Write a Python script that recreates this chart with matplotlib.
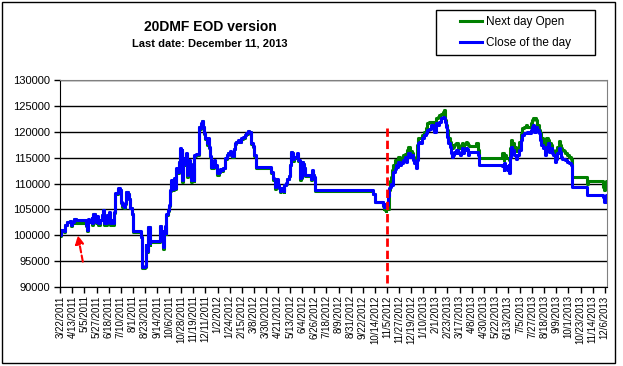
import matplotlib
matplotlib.use("Agg")
import matplotlib.pyplot as plt
from matplotlib.patches import Rectangle
import pandas as pd

plt.rcParams['font.family'] = ['Liberation Sans', 'DejaVu Sans']

# daily series, only the days where something changes (held until next day)
dates = [
    '2011-03-22', '2011-03-24', '2011-03-29', '2011-03-30', '2011-04-04', '2011-04-08', '2011-04-10',
    '2011-04-13', '2011-04-16', '2011-04-19', '2011-05-07', '2011-05-09', '2011-05-11', '2011-05-14',
    '2011-05-18', '2011-05-19', '2011-05-21', '2011-05-24', '2011-05-26', '2011-05-28', '2011-05-30',
    '2011-06-02', '2011-06-05', '2011-06-07', '2011-06-09', '2011-06-11', '2011-06-12', '2011-06-15',
    '2011-06-16', '2011-06-18', '2011-06-21', '2011-06-23', '2011-06-26', '2011-06-28', '2011-06-29',
    '2011-06-30', '2011-07-05', '2011-07-08', '2011-07-10', '2011-07-13', '2011-07-16', '2011-07-18',
    '2011-07-20', '2011-07-23', '2011-07-25', '2011-07-27', '2011-07-31', '2011-08-01', '2011-08-16',
    '2011-08-18', '2011-08-23', '2011-08-24', '2011-08-25', '2011-08-28', '2011-09-01', '2011-09-02',
    '2011-09-20', '2011-09-22', '2011-09-24', '2011-09-26', '2011-09-28', '2011-09-30', '2011-10-01',
    '2011-10-04', '2011-10-06', '2011-10-07', '2011-10-10', '2011-10-12', '2011-10-14', '2011-10-16',
    '2011-10-18', '2011-10-19', '2011-10-22', '2011-10-24', '2011-10-25', '2011-10-27', '2011-10-29',
    '2011-10-30', '2011-11-01', '2011-11-03', '2011-11-05', '2011-11-06', '2011-11-08', '2011-11-10',
    '2011-11-12', '2011-11-15', '2011-11-17', '2011-11-20', '2011-11-21', '2011-11-23', '2011-11-29',
    '2011-12-01', '2011-12-03', '2011-12-05', '2011-12-07', '2011-12-09', '2011-12-11', '2011-12-13',
    '2011-12-16', '2011-12-18', '2011-12-20', '2011-12-21', '2011-12-27', '2011-12-29',
    '2012-01-01', '2012-01-04', '2012-01-07', '2012-01-09', '2012-01-11', '2012-01-16', '2012-01-19',
    '2012-01-21', '2012-01-24', '2012-01-26', '2012-01-29', '2012-01-31', '2012-02-02', '2012-02-05',
    '2012-02-09', '2012-02-12', '2012-02-14', '2012-02-17', '2012-02-20', '2012-02-23', '2012-02-26',
    '2012-02-29', '2012-03-02', '2012-03-03', '2012-03-06', '2012-03-08', '2012-03-11', '2012-04-09',
    '2012-04-12', '2012-04-14', '2012-04-16', '2012-04-18', '2012-04-20', '2012-04-22', '2012-04-25',
    '2012-04-26', '2012-05-01', '2012-05-02', '2012-05-05', '2012-05-08', '2012-05-10', '2012-05-12',
    '2012-05-15', '2012-05-17', '2012-05-18', '2012-05-20', '2012-05-23', '2012-05-26', '2012-05-28',
    '2012-05-30', '2012-06-02', '2012-06-03', '2012-06-06', '2012-06-08', '2012-06-09', '2012-06-20',
    '2012-06-22', '2012-06-24', '2012-06-26', '2012-06-28', '2012-10-11', '2012-10-14', '2012-10-28',
    '2012-10-30', '2012-10-31', '2012-11-01', '2012-11-03', '2012-11-04', '2012-11-06', '2012-11-08',
    '2012-11-10', '2012-11-12', '2012-11-14', '2012-11-16', '2012-11-19', '2012-11-21', '2012-11-23',
    '2012-11-25', '2012-11-28', '2012-12-01', '2012-12-04', '2012-12-07', '2012-12-09', '2012-12-12',
    '2012-12-14', '2012-12-17', '2012-12-20', '2012-12-23', '2012-12-25', '2012-12-27', '2012-12-29',
    '2012-12-31', '2013-01-03', '2013-01-06', '2013-01-08', '2013-01-11', '2013-01-15', '2013-01-17',
    '2013-01-21', '2013-01-24', '2013-01-27', '2013-01-30', '2013-02-02', '2013-02-05', '2013-02-08',
    '2013-02-11', '2013-02-14', '2013-02-17', '2013-02-19', '2013-02-21', '2013-02-23', '2013-02-24',
    '2013-02-27', '2013-03-01', '2013-03-03', '2013-03-05', '2013-03-07', '2013-03-09', '2013-03-11',
    '2013-03-14', '2013-03-17', '2013-03-19', '2013-03-21', '2013-03-23', '2013-03-25', '2013-03-28',
    '2013-03-31', '2013-04-02', '2013-04-04', '2013-04-07', '2013-04-16', '2013-04-19', '2013-04-21',
    '2013-06-03', '2013-06-05', '2013-06-06', '2013-06-08', '2013-06-10', '2013-06-12', '2013-06-14',
    '2013-06-15', '2013-06-17', '2013-06-19', '2013-06-21', '2013-06-24', '2013-06-27', '2013-06-30',
    '2013-07-03', '2013-07-06', '2013-07-09', '2013-07-12', '2013-07-15', '2013-07-18', '2013-07-21',
    '2013-07-24', '2013-07-27', '2013-07-29', '2013-07-31', '2013-08-03', '2013-08-05', '2013-08-08',
    '2013-08-10', '2013-08-12', '2013-08-15', '2013-08-17', '2013-08-20', '2013-08-22', '2013-08-25',
    '2013-08-27', '2013-08-30', '2013-09-01', '2013-09-03', '2013-09-06', '2013-09-08', '2013-09-10',
    '2013-09-13', '2013-09-15', '2013-09-18', '2013-09-20', '2013-09-22', '2013-09-25', '2013-09-28',
    '2013-10-02', '2013-10-05', '2013-10-07', '2013-10-08', '2013-11-04', '2013-11-05', '2013-12-02',
    '2013-12-04', '2013-12-07', '2013-12-08', '2013-12-10',
]

close_day = [
    100000, 101000, 100800, 102000, 102600, 102800, 102000,
    102500, 103200, 103000, 102000, 101000, 103100, 102600,
    103400, 102300, 104200, 103500, 102600, 103700, 102300,
    103000, 104000, 104900, 102300, 103700, 102300, 104000,
    102600, 104400, 102300, 103000, 102300, 104400, 106500,
    108100, 109100, 108800, 106500, 105800, 105500, 106200,
    108400, 108000, 107100, 105300, 104200, 100800, 99700,
    93900, 94000, 98100, 97000, 101600, 98500, 98800,
    101800, 100800, 97800, 100800, 101700, 100500, 104200,
    104800, 105800, 108700, 110700, 109000, 111000, 109200,
    111300, 112900, 112200, 114200, 116800, 114500, 116400,
    110700, 115000, 113700, 114300, 115800, 111600, 114500,
    113800, 110700, 113000, 110700, 115500, 115700, 121000,
    120700, 121600, 122100, 121000, 119700, 118700, 117800,
    118700, 117000, 115400, 113200, 114500, 113600,
    112000, 112300, 112800, 112600, 113000, 114900, 115600,
    115900, 116200, 115600, 115400, 116700, 117800, 118100,
    118400, 118100, 118700, 118900, 119400, 119700, 120200,
    120000, 119500, 117800, 117300, 115500, 113200, 112300,
    111000, 110800, 109300, 110800, 109700, 109200, 108600,
    109100, 108500, 109800, 110100, 110900, 111500, 113600,
    116100, 115900, 114800, 115100, 115200, 115800, 114500,
    111000, 111200, 114200, 113800, 113000, 111600, 110900,
    112600, 111700, 111200, 108700, 108000, 106500, 105800,
    105400, 106100, 105500, 105800, 105800, 107500, 109100,
    109400, 110000, 109700, 112300, 112800, 113600, 113200,
    114200, 113600, 113900, 114500, 115100, 114200, 115100,
    115800, 115200, 115500, 114500, 113900, 113000, 114500,
    117800, 118100, 117800, 118700, 119400, 119700, 120300,
    120600, 121300, 121000, 120000, 121600, 121300, 121900,
    122600, 122900, 122700, 121800, 121000, 119000, 117800,
    117100, 115800, 115200, 115500, 116100, 115800, 116500,
    115800, 115500, 116100, 116800, 115800, 116500, 116800,
    116600, 115500, 116100, 116000, 116000, 115500, 113600,
    113300, 112600, 113900, 113000, 113300, 112600, 113600,
    112000, 115200, 117100, 116500, 115500, 114800, 115500,
    116500, 118400, 119400, 119700, 119700, 120000, 119700,
    120300, 121000, 121300, 120000, 121000, 120300, 119700,
    118400, 117400, 116800, 117100, 115500, 117100, 117800,
    116100, 116800, 115800, 115500, 114200, 114800, 115800,
    116800, 116100, 115200, 114800, 114800, 114500, 114200,
    113900, 113600, 111300, 109300, 107700, 107700, 107300,
    106500, 106500, 107700, 107700,
]

open_next = [
    99800, 100900, 100600, 101900, 102500, 102700, 101700,
    102400, 103100, 102300, 101800, 100800, 103000, 102500,
    103300, 102000, 104100, 103400, 102400, 103600, 102000,
    102900, 103900, 104800, 101900, 103600, 102000, 103900,
    102400, 104300, 102000, 102900, 102000, 104300, 106400,
    108000, 109000, 108700, 106300, 105500, 105200, 106100,
    108300, 107900, 107000, 105200, 104100, 100700, 99600,
    93700, 93800, 98000, 96800, 101500, 98100, 98600,
    101700, 100700, 97400, 100700, 101600, 100300, 104000,
    104700, 105600, 108600, 110500, 108700, 110900, 108900,
    111200, 112800, 112100, 114100, 116700, 114400, 116300,
    110200, 114900, 113500, 114200, 115700, 111200, 114400,
    113700, 110200, 112900, 110400, 115300, 115600, 120900,
    120600, 121500, 122000, 120900, 119500, 118600, 117400,
    118600, 116800, 115200, 112900, 114400, 113400,
    111700, 112200, 112700, 112500, 112900, 114800, 115500,
    115800, 116100, 115500, 115100, 116600, 117700, 118000,
    118300, 118000, 118600, 118800, 119300, 119600, 120100,
    119900, 119400, 117700, 117100, 115300, 113000, 112100,
    110700, 110700, 109000, 110700, 109600, 109100, 108400,
    109000, 108300, 109700, 110000, 110800, 111400, 113500,
    116000, 115800, 114400, 115000, 115100, 115700, 114400,
    110700, 111100, 114100, 113700, 112900, 111400, 110600,
    112500, 111600, 111100, 108500, 107900, 106400, 105600,
    105000, 105400, 104900, 104700, 105000, 105000, 108700,
    110400, 111200, 112600, 113600, 114500, 114600, 114500,
    115100, 114600, 115000, 115500, 115700, 115600, 116500,
    117100, 116200, 115900, 115200, 114600, 114900, 117400,
    118700, 118700, 118700, 119300, 120000, 120700, 121600,
    121900, 121900, 121800, 121700, 122600, 122900, 123200,
    123500, 123900, 124200, 122300, 121300, 120300, 118800,
    118100, 117400, 116800, 117100, 117400, 117600, 117800,
    116800, 117100, 117400, 117800, 117100, 117700, 118100,
    117800, 117400, 117300, 117300, 117900, 116500, 114900,
    115800, 114500, 115100, 115500, 114900, 114900, 114600,
    114500, 116800, 118400, 117800, 117100, 116200, 116500,
    118000, 119600, 120700, 121000, 121300, 121000, 121000,
    121600, 122300, 122600, 122600, 122300, 121300, 120300,
    119700, 118700, 118100, 118400, 117100, 118700, 118400,
    117800, 117400, 116500, 115800, 115800, 116500, 117100,
    118300, 117400, 116800, 116500, 116200, 115800, 115500,
    115200, 114800, 113600, 111200, 110000, 110400, 109400,
    108700, 108900, 110400, 110400,
]

tick_labels = [
    '3/22/2011', '4/13/2011', '5/5/2011', '5/27/2011', '6/18/2011', '7/10/2011', '8/1/2011',
    '8/23/2011', '9/14/2011', '10/6/2011', '10/28/2011', '11/19/2011', '12/11/2011', '1/2/2012',
    '1/24/2012', '2/15/2012', '3/8/2012', '3/30/2012', '4/21/2012', '5/13/2012', '6/4/2012',
    '6/26/2012', '7/18/2012', '8/9/2012', '8/31/2012', '9/22/2012', '10/14/2012', '11/5/2012',
    '11/27/2012', '12/19/2012', '1/10/2013', '2/1/2013', '2/23/2013', '3/17/2013', '4/8/2013',
    '4/30/2013', '5/22/2013', '6/13/2013', '7/5/2013', '7/27/2013', '8/18/2013', '9/9/2013',
    '10/1/2013', '10/23/2013', '11/14/2013', '12/6/2013',
]
y_ticks = [90000, 95000, 100000, 105000, 110000, 115000, 120000, 125000, 130000]

# red marks drawn on the chart
marker_date = '2012-11-05'
marker_top = 120700
arrow_tail = ('2011-05-02', 94900)
arrow_head = ('2011-04-23', 100000)

d = pd.to_datetime(dates)
ticks = pd.to_datetime(tick_labels, format='%m/%d/%Y')

fig = plt.figure(figsize=(6.23, 3.66), dpi=100)
ax = fig.add_axes([60 / 623, 1 - 287 / 366, 547 / 623, 207 / 366])

ax.plot(d, open_next, color='#008000', lw=2.2, drawstyle='steps-post', label='Next day Open')
ax.plot(d, close_day, color='#0000ff', lw=2.2, drawstyle='steps-post', label='Close of the day')

ax.set_xlim(pd.Timestamp('2011-03-21 12:00'), pd.Timestamp('2013-12-10'))
ax.set_ylim(90000, 130000)
ax.set_yticks(y_ticks)
ax.set_xticks(ticks)
ax.set_xticklabels(tick_labels, rotation=90, fontsize=7)
ax.tick_params(axis='y', labelsize=8, length=4, width=1, pad=3, direction='out')
ax.tick_params(axis='x', length=4, width=1, pad=2, direction='out')
ax.grid(axis='y', color='black', lw=1)
ax.set_axisbelow(True)
for s in ['top', 'right']:
    ax.spines[s].set_color('#808080')
for s in ['left', 'bottom']:
    ax.spines[s].set_color('black')

# red dashed vertical line and dashed arrow
md = pd.Timestamp(marker_date)
ax.plot([md, md], [marker_top, 90000], color='red', lw=2.0, dashes=(3, 1.4), clip_on=False, zorder=5)
t0 = pd.Timestamp(arrow_tail[0])
h0 = pd.Timestamp(arrow_head[0])
ax.annotate('', xy=(h0, arrow_head[1]), xytext=(t0, arrow_tail[1]),
            arrowprops=dict(arrowstyle='-|>,head_length=0.5,head_width=0.25', color='red', lw=1.5,
                            linestyle=(0, (3, 1.5)), shrinkA=0, shrinkB=0), zorder=5)

fig.text(210 / 623, 1 - 27 / 366, '20DMF EOD version', ha='center', va='center',
         fontsize=10, fontweight='bold')
fig.text(210 / 623, 1 - 44 / 366, 'Last date: December 11, 2013', ha='center', va='center',
         fontsize=8, fontweight='bold')

# legend box
fig.patches.append(Rectangle((436.5 / 623, 1 - 55 / 366), 158.5 / 623, 45.5 / 366,
                             transform=fig.transFigure, fill=False, ec='black', lw=1))
fig.legend(loc='upper left', bbox_to_anchor=(460 / 623, 1 - 16.5 / 366), frameon=False,
           fontsize=8.5, handlelength=1.9, handletextpad=0.3, labelspacing=0.75,
           borderpad=0, borderaxespad=0)

# chart area border
fig.patches.append(Rectangle((1.5 / 623, 3 / 366), 613.5 / 623, 361.5 / 366,
                             transform=fig.transFigure, fill=False, ec='black', lw=1))

plt.savefig('out.png', dpi=100)
